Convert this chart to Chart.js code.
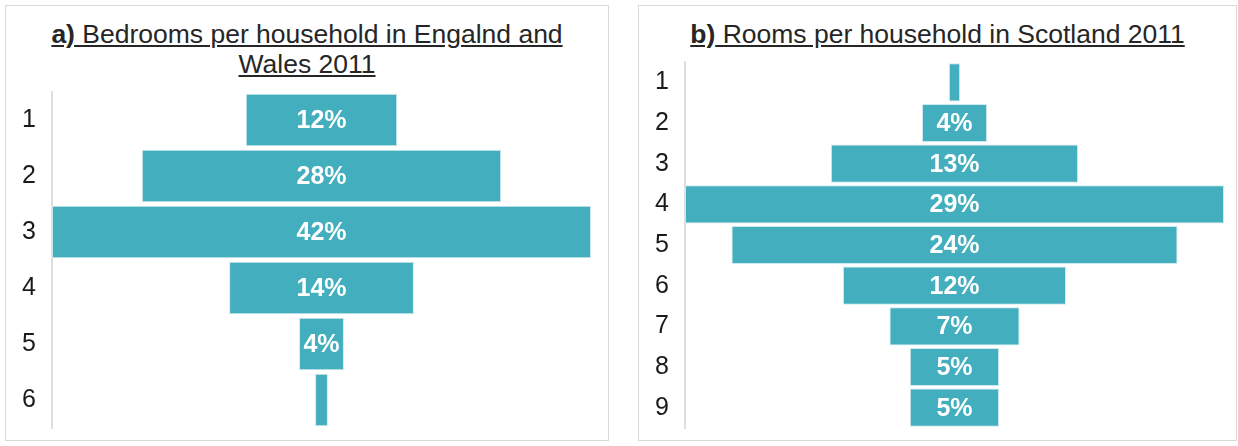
<!DOCTYPE html>
<html lang="en">
<head>
    <meta charset="UTF-8">
    <title>Rooms per household</title>
    <script src="https://cdn.jsdelivr.net/npm/chart.js"></script>
    <style>
        body { margin: 0; background: #fff; font-family: "Liberation Sans", Arial, sans-serif; }
        .painel { position: absolute; border: 1px solid #d9d9d9; box-sizing: border-box; }
        .titulo { position: absolute; left: 0; right: 0; text-align: center; font-size: 26.5px; line-height: 30px; color: #262626; }
        .grafico { position: absolute; }
    </style>
</head>
<body>

    <div class="painel" style="left:5px; top:5px; width:604px; height:436px;">
        <div class="titulo" style="top:13px;"><u><b>a)</b> Bedrooms per household in Engalnd and<br>Wales 2011</u></div>
    </div>
    <div class="grafico" style="left:6px; top:90px; width:602px; height:340px;">
        <canvas id="chartQuartos"></canvas>
    </div>

    <div class="painel" style="left:638px; top:5px; width:599px; height:436px;">
        <div class="titulo" style="top:13px;"><u><b>b)</b> Rooms per household in Scotland 2011</u></div>
    </div>
    <div class="grafico" style="left:639px; top:60px; width:597px; height:370px;">
        <canvas id="chartComodos"></canvas>
    </div>

<script>
    // dados (% de domicilios)
    var quartos = ['1', '2', '3', '4', '5', '6'];
    var pctQuartos = [11.8, 28, 42, 14.4, 3.5, 1];

    var comodos = ['1', '2', '3', '4', '5', '6', '7', '8', '9'];
    var pctComodos = [0.6, 3.5, 13.3, 29, 24, 12, 7, 4.8, 4.8];

    var corBarra = '#42aebe';

    // escreve o rotulo de % no meio de cada barra
    const rotulos = {
        id: 'rotulos',
        afterDatasetsDraw(chart) {
            const ctx = chart.ctx;
            const meta = chart.getDatasetMeta(0);
            const valores = chart.data.datasets[0].valores;
            ctx.save();
            ctx.fillStyle = '#ffffff';
            ctx.font = 'bold 25px "Liberation Sans", Arial, sans-serif';
            ctx.textAlign = 'center';
            ctx.textBaseline = 'middle';
            meta.data.forEach((barra, i) => {
                if (valores[i] < 2) return;
                const p = barra.getProps(['x', 'y', 'base'], true);
                ctx.fillText(Math.round(valores[i]) + '%', (p.x + p.base) / 2, p.y + 1);
            });
            ctx.restore();
        }
    };

    function funil(id, labels, valores, larguraEixo, padDireita) {
        const maior = Math.max(...valores);
        new Chart(document.getElementById(id), {
            type: 'bar',
            data: {
                labels: labels,
                datasets: [{
                    data: valores.map(v => [-v / 2, v / 2]),
                    valores: valores,
                    backgroundColor: corBarra,
                    borderColor: '#cfeaee',
                    borderWidth: 1,
                    borderSkipped: false,
                    barPercentage: 0.94,
                    categoryPercentage: 1
                }]
            },
            options: {
                indexAxis: 'y',
                responsive: true,
                maintainAspectRatio: false,
                animation: false,
                layout: { padding: { top: 2, bottom: 2, right: padDireita, left: 0 } },
                plugins: { legend: { display: false }, tooltip: { enabled: false } },
                scales: {
                    x: { display: false, min: -maior / 2, max: maior / 2 },
                    y: {
                        grid: { display: false },
                        border: { display: true, color: '#dedede', width: 2 },
                        ticks: { color: '#1a1a1a', padding: 8, font: { size: 25, family: '"Liberation Sans", Arial, sans-serif' } },
                        afterFit: function (scale) {
                            scale.width = larguraEixo;
                            scale.paddingTop = 0;
                            scale.paddingBottom = 0;
                        }
                    }
                }
            },
            plugins: [rotulos]
        });
    }

    funil('chartQuartos', quartos, pctQuartos, 46, 17);
    funil('chartComodos', comodos, pctComodos, 46, 12);
</script>
</body>
</html>
